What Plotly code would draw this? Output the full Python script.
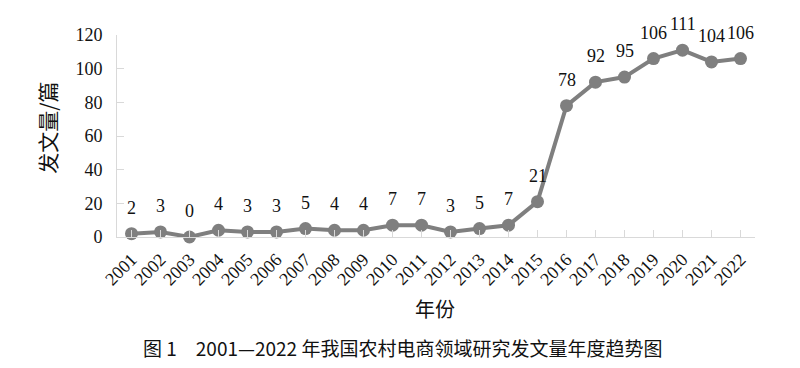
import plotly.graph_objects as go

years = list(range(2001, 2023))
counts = [2, 3, 0, 4, 3, 3, 5, 4, 4, 7, 7, 3, 5, 7, 21, 78, 92, 95, 106, 111, 104, 106]
y_ticks = [0, 20, 40, 60, 80, 100, 120]

serif = "Liberation Serif, Times New Roman, serif"
cjk = "Noto Sans CJK SC"
gray = "#7f7f7f"
axis_gray = "#d9d9d9"

fig = go.Figure()
fig.add_trace(go.Scatter(
    x=years, y=counts, mode="lines+markers",
    line=dict(color=gray, width=4),
    marker=dict(color=gray, size=13),
    cliponaxis=False, showlegend=False,
))

annotations = [
    dict(x=yr, y=v, xref="x", yref="y", text=str(v), showarrow=False,
         xanchor="center", yanchor="middle", yshift=26,
         font=dict(family=serif, size=18, color="#111111"))
    for yr, v in zip(years, counts)
]
annotations += [
    dict(text="发文量/篇", xref="paper", yref="paper", x=-0.11, y=0.54,
         textangle=-90, showarrow=False, xanchor="center", yanchor="middle",
         font=dict(family=cjk, size=21, color="#111111")),
    dict(text="年份", xref="paper", yref="paper", x=0.498, y=-0.356,
         showarrow=False, xanchor="center", yanchor="middle",
         font=dict(family=cjk, size=20, color="#111111")),
    dict(text="图 1　2001—2022 年我国农村电商领域研究发文量年度趋势图", xref="paper", yref="paper",
         x=0.447, y=-0.545, showarrow=False, xanchor="center", yanchor="middle",
         font=dict(family=cjk, size=19, color="#111111")),
]

fig.update_layout(
    width=800, height=368,
    margin=dict(l=117, r=45, t=35, b=131),
    paper_bgcolor="white", plot_bgcolor="white",
    xaxis=dict(
        range=[2000.5, 2022.5], tickmode="array", tickvals=years,
        ticktext=[str(y) for y in years], tickangle=-45,
        tickfont=dict(family=serif, size=18, color="#111111"),
        showgrid=False, zeroline=False, showline=True, linecolor=axis_gray, linewidth=1,
        ticks="inside", ticklen=7, tickcolor=axis_gray, ticklabelstandoff=4,
    ),
    yaxis=dict(
        range=[0, 120], tickmode="array", tickvals=y_ticks,
        tickfont=dict(family=serif, size=18, color="#111111"),
        showgrid=False, zeroline=False, showline=True, linecolor=axis_gray, linewidth=1,
        ticks="inside", ticklen=7, tickcolor=axis_gray, ticklabelstandoff=10,
    ),
    annotations=annotations,
)

fig.write_html("out.html")
